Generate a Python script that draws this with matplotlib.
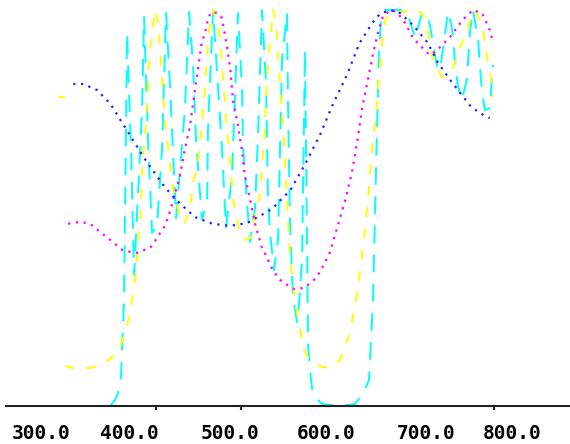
import numpy as np
import matplotlib
matplotlib.use("Agg")
import matplotlib.pyplot as plt
from matplotlib.ticker import FixedLocator, NullFormatter

# wavelength (nm) and value
blue_nm = [302, 314, 330, 346, 357, 369, 389, 411, 425, 446, 467, 488, 508, 537,
           559, 576, 594, 609, 626, 641, 657, 665, 677, 689, 704, 721, 734, 750,
           772, 783, 795]
blue_v = [0.813, 0.813, 0.798, 0.763, 0.725, 0.684, 0.616, 0.551, 0.518, 0.477,
          0.460, 0.455, 0.462, 0.497, 0.545, 0.609, 0.684, 0.760, 0.836, 0.917,
          0.970, 0.990, 1.0, 0.992, 0.962, 0.919, 0.866, 0.818, 0.758, 0.740, 0.727]

magenta_nm = [296, 310, 322, 334, 346, 360, 376, 393, 402, 411, 417, 422, 428, 434,
              440, 446, 450, 454, 458, 462, 466, 473, 478, 484, 488, 491, 497, 502,
              505, 511, 517, 525, 531, 538, 547, 555, 564, 574, 585, 594, 606, 624,
              632, 639, 644, 650, 657, 662, 669, 679, 686, 695, 704, 724, 733, 748,
              763, 775, 786, 795, 799]
magenta_v = [0.460, 0.465, 0.460, 0.439, 0.419, 0.394, 0.386, 0.399, 0.427, 0.457,
             0.495, 0.533, 0.578, 0.646, 0.705, 0.798, 0.856, 0.917, 0.942, 0.982,
             0.995, 0.992, 0.980, 0.907, 0.848, 0.773, 0.707, 0.641, 0.583, 0.525,
             0.462, 0.402, 0.376, 0.343, 0.318, 0.306, 0.295, 0.298, 0.313, 0.338,
             0.389, 0.520, 0.591, 0.679, 0.753, 0.816, 0.891, 0.937, 0.987, 1.0,
             0.992, 0.967, 0.929, 0.886, 0.899, 0.932, 0.975, 1.0, 0.992, 0.949, 0.919]

yellow_nm = [288.8, 292.3, 301.8, 321.9, 330.2, 340.8, 349.1, 357.4, 363.3, 368.0,
             371.6, 375.1, 378.7, 381.1, 384.6, 388.2, 392.9, 396.4, 398.8, 402.4,
             404.7, 408.3, 410.7, 418.9, 428.4, 433.1, 440.2, 443.8, 448.5, 453.3,
             455.6, 458.0, 460.4, 461.5, 463.9, 467.5, 473.4, 476.9, 478.1, 480.5,
             482.8, 487.6, 491.1, 495.9, 499.4, 505.3, 511.2, 519.5, 523.1, 526.6,
             529.0, 530.2, 532.5, 534.9, 538.5, 542.0, 544.4, 546.7, 549.1, 551.5,
             555.0, 558.6, 560.9, 563.3, 566.9, 572.8, 576.3, 582.2, 590.5, 597.6,
             605.9, 617.7, 629.6, 639.0, 647.3, 650.9, 654.4, 656.8, 660.3, 662.7,
             665.1, 668.6, 671.0, 674.5, 682.8, 694.7, 704.1, 710.0, 716.0, 720.7,
             724.3, 727.8, 732.5, 738.4, 744.4, 750.3, 756.2, 762.1, 768.0, 774.0,
             777.5, 783.4, 787.0, 789.3, 792.9, 797.6, 798.8]
yellow_v = [0.780, 0.101, 0.096, 0.096, 0.101, 0.111, 0.126, 0.149, 0.184, 0.222,
            0.273, 0.318, 0.409, 0.465, 0.629, 0.722, 0.904, 0.962, 1.0, 0.970,
            0.902, 0.783, 0.717, 0.563, 0.475, 0.460, 0.495, 0.566, 0.596, 0.689,
            0.747, 0.803, 0.881, 0.924, 0.967, 1.0, 0.957, 0.909, 0.856, 0.801,
            0.722, 0.621, 0.525, 0.470, 0.437, 0.419, 0.424, 0.503, 0.533, 0.641,
            0.697, 0.793, 0.859, 0.917, 1.0, 0.972, 0.894, 0.811, 0.735, 0.672,
            0.520, 0.364, 0.336, 0.285, 0.235, 0.167, 0.136, 0.116, 0.104, 0.098,
            0.098, 0.116, 0.184, 0.298, 0.444, 0.520, 0.614, 0.672, 0.730, 0.803,
            0.856, 0.942, 0.970, 0.987, 0.995, 0.995, 1.0, 1.0, 0.987, 0.955,
            0.917, 0.874, 0.854, 0.831, 0.836, 0.848, 0.881, 0.917, 0.949, 0.987,
            1.0, 0.975, 0.949, 0.911, 0.866, 0.816, 0.780]

cyan_nm = [345.6, 351.5, 356.2, 358.6, 362.1, 365.7, 370.4, 374.0, 383.4, 385.8,
           390.5, 395.3, 401.2, 407.1, 411.8, 416.6, 423.7, 434.3, 439.1, 443.8,
           447.3, 454.4, 460.4, 461.5, 467.5, 478.1, 482.8, 489.9, 493.5, 497.0,
           501.8, 503.0, 511.2, 517.2, 520.7, 525.4, 530.2, 532.5, 534.9, 539.6,
           544.4, 549.1, 555.0, 556.2, 558.6, 562.1, 566.9, 569.2, 572.8, 576.3,
           578.7, 579.9, 583.4, 585.8, 596.4, 617.7, 635.5, 646.1, 652.1, 656.8,
           661.5, 663.9, 666.3, 671.0, 692.3, 700.6, 706.5, 714.8, 720.7, 724.3,
           732.5, 736.1, 745.6, 750.3, 753.8, 757.4, 762.1, 768.0, 771.6, 775.1,
           781.1, 785.8, 789.3, 795.3, 798.8]
cyan_v = [0.0, 0.015, 0.040, 0.078, 0.268, 0.942, 0.646, 0.331, 0.747, 0.982,
          0.672, 0.437, 0.457, 0.646, 0.992, 0.806, 0.475, 0.753, 0.995, 0.861,
          0.672, 0.470, 0.520, 0.697, 1.0, 0.646, 0.449, 0.583, 0.785, 0.992,
          0.803, 0.654, 0.414, 0.500, 0.684, 1.0, 0.816, 0.520, 0.439, 0.343,
          0.419, 0.874, 0.992, 0.773, 0.457, 0.275, 0.212, 0.255, 0.369, 0.899,
          0.419, 0.154, 0.066, 0.028, 0.005, 0.0, 0.005, 0.035, 0.066, 0.268,
          0.697, 0.894, 0.975, 1.0, 1.0, 0.972, 0.929, 0.992, 0.990, 0.960,
          0.859, 0.848, 0.995, 0.955, 0.869, 0.806, 0.773, 0.826, 0.944, 1.0,
          0.927, 0.793, 0.747, 0.753, 0.861]

tick_labels = ["300.0", "400.0", "500.0", "600.0", "700.0", "800.0"]
label_at = [264, 369, 488, 601, 720, 822]
tick_marks = [400, 500, 800]

fig = plt.figure(figsize=(5.7, 4.44), dpi=100)
ax = fig.add_axes([0.0114, 0.0856, 0.9886, 0.9032])

ax.plot(cyan_nm, cyan_v, color="#00ffff", lw=1.4, linestyle=(0, (9, 6)))
# first yellow sample stands alone in the picture
ax.plot(yellow_nm[:1], yellow_v[:1], color="#ffff00", lw=0, marker="_",
        markersize=4, markeredgewidth=1.6)
ax.plot(yellow_nm[1:], yellow_v[1:], color="#ffff00", lw=1.4, linestyle=(0, (5, 6)))
ax.plot(magenta_nm, magenta_v, color="#ff00ff", lw=1.6, linestyle=(0, (1, 2.5)))
ax.plot(blue_nm, blue_v, color="#2020ff", lw=1.6, linestyle=(0, (1, 2.5)))

ax.set_xlim(223, 890)
ax.set_ylim(0, 1.0126)

for side in ["top", "right", "left"]:
    ax.spines[side].set_visible(False)
ax.spines["bottom"].set_linewidth(1.5)
ax.spines["bottom"].set_color("#202020")
ax.set_yticks([])

ax.xaxis.set_major_locator(FixedLocator(label_at))
ax.set_xticklabels(tick_labels, fontfamily="DejaVu Sans Mono",
                   fontweight="bold", fontsize=14)
ax.tick_params(axis="x", which="major", length=0, pad=13)
ax.xaxis.set_minor_locator(FixedLocator(tick_marks))
ax.xaxis.set_minor_formatter(NullFormatter())
ax.tick_params(axis="x", which="minor", length=3, width=1.5, color="#202020")

fig.savefig("out.png", dpi=100)
